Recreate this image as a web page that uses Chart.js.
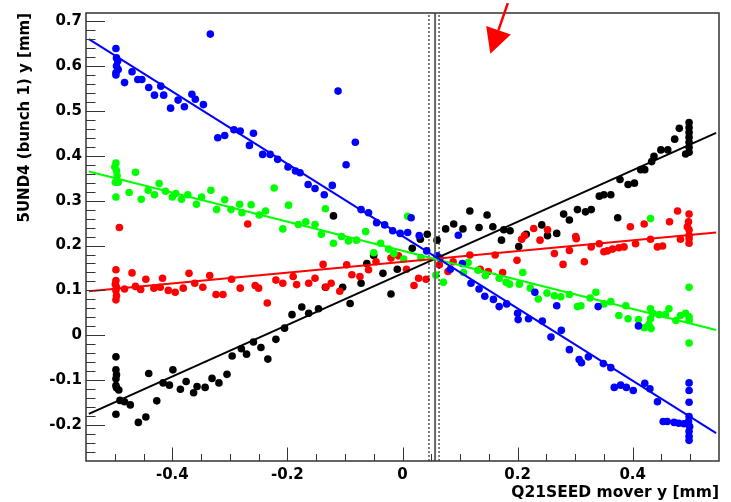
<!DOCTYPE html>
<html>
<head>
<meta charset="utf-8">
<script src="https://cdn.jsdelivr.net/npm/chart.js@4/dist/chart.umd.min.js"></script>
<style>
  html, body { margin: 0; padding: 0; background: #fff; }
  #wrap { width: 731px; height: 502px; }
</style>
</head>
<body>
<div id="wrap"><canvas id="myChart"></canvas></div>
<script>
// scan points, x = mover y [mm], y = 5UND4 y [mm]
var blueX = [-0.498,-0.497,-0.495,-0.497,-0.494,-0.498,-0.498,-0.483,-0.470,-0.460,-0.453,-0.441,-0.431,-0.420,-0.415,-0.403,-0.390,-0.379,-0.366,-0.360,-0.346,-0.334,-0.321,-0.309,-0.293,-0.282,-0.259,-0.266,-0.243,-0.230,-0.217,-0.199,-0.186,-0.178,-0.164,-0.152,-0.136,-0.122,-0.112,-0.098,-0.082,-0.072,-0.059,-0.045,-0.031,-0.017,-0.004,0.009,0.015,0.029,0.097,0.042,0.060,0.065,0.083,0.104,0.119,0.133,0.143,0.158,0.168,0.181,0.200,0.201,0.219,0.243,0.230,0.268,0.258,0.276,0.290,0.307,0.311,0.323,0.340,0.349,0.362,0.368,0.379,0.389,0.401,0.421,0.430,0.410,0.443,0.453,0.460,0.472,0.480,0.489,0.498,0.498,0.498,0.498,0.497,0.499,0.498,0.498,0.498];
var blueY = [0.639,0.618,0.611,0.600,0.592,0.585,0.580,0.563,0.587,0.570,0.570,0.552,0.535,0.555,0.535,0.506,0.524,0.509,0.537,0.526,0.514,0.671,0.440,0.445,0.458,0.455,0.450,0.423,0.403,0.403,0.392,0.375,0.366,0.362,0.336,0.327,0.313,0.334,0.544,0.380,0.430,0.280,0.273,0.251,0.246,0.233,0.227,0.229,0.262,0.222,0.223,0.188,0.177,0.172,0.147,0.160,0.116,0.103,0.087,0.080,0.064,0.070,0.049,0.035,0.037,0.032,0.096,0.066,-0.004,0.011,-0.032,-0.054,-0.061,-0.048,0.064,-0.063,-0.072,-0.116,-0.111,-0.116,-0.123,-0.107,-0.119,0.021,-0.148,-0.192,-0.192,-0.194,-0.196,-0.197,-0.106,-0.123,-0.149,-0.181,-0.192,-0.203,-0.214,-0.225,-0.234];

var greenX = [-0.498,-0.500,-0.497,-0.496,-0.499,-0.494,-0.498,-0.464,-0.475,-0.454,-0.442,-0.431,-0.423,-0.412,-0.400,-0.394,-0.384,-0.373,-0.358,-0.349,-0.333,-0.323,-0.309,-0.298,-0.283,-0.279,-0.263,-0.249,-0.238,-0.223,-0.208,-0.198,-0.181,-0.168,-0.152,-0.141,-0.134,-0.120,-0.106,-0.094,-0.080,-0.064,-0.038,0.009,-0.050,-0.024,-0.015,0.002,0.032,0.058,0.071,0.106,0.114,0.131,0.144,0.168,0.180,0.186,0.203,0.209,0.222,0.236,0.251,0.264,0.275,0.290,0.304,0.310,0.326,0.336,0.350,0.362,0.376,0.388,0.392,0.410,0.420,0.431,0.435,0.431,0.428,0.432,0.446,0.457,0.463,0.475,0.483,0.492,0.498,0.498,0.498,0.498,0.431];
var greenY = [0.384,0.375,0.367,0.356,0.341,0.341,0.308,0.363,0.318,0.303,0.323,0.313,0.338,0.321,0.308,0.316,0.303,0.313,0.292,0.308,0.323,0.280,0.302,0.280,0.292,0.273,0.291,0.268,0.277,0.328,0.237,0.290,0.247,0.253,0.247,0.225,0.282,0.205,0.220,0.210,0.212,0.231,0.205,0.265,0.184,0.192,0.182,0.170,0.173,0.134,0.118,0.140,0.162,0.145,0.133,0.127,0.118,0.114,0.114,0.140,0.105,0.081,0.094,0.088,0.086,0.091,0.064,0.066,0.083,0.096,0.070,0.075,0.044,0.066,0.037,0.035,0.017,0.059,0.049,0.037,0.024,0.015,0.046,0.046,0.059,0.033,0.044,0.049,0.107,0.041,0.033,-0.017,0.260];

var redX = [-0.498,-0.498,-0.499,-0.497,-0.498,-0.497,-0.498,-0.492,-0.483,-0.470,-0.464,-0.455,-0.446,-0.432,-0.421,-0.417,-0.407,-0.395,-0.381,-0.371,-0.361,-0.347,-0.335,-0.324,-0.312,-0.297,-0.282,-0.269,-0.256,-0.250,-0.235,-0.220,-0.208,-0.190,-0.184,-0.163,-0.152,-0.138,-0.133,-0.124,-0.109,-0.097,-0.088,-0.074,-0.059,-0.046,-0.020,-0.007,0.007,0.020,0.028,0.041,0.064,0.079,0.088,0.117,0.135,0.149,0.161,0.174,0.199,0.207,0.239,0.264,0.279,0.290,0.302,0.316,0.328,0.342,0.350,0.356,0.365,0.376,0.385,0.405,0.431,0.443,0.452,0.483,0.228,0.252,0.212,0.301,0.396,0.420,0.464,0.478,0.498,0.497,0.495,0.498,0.498,0.498,0.498];
var redY = [0.146,0.122,0.114,0.107,0.100,0.088,0.079,0.240,0.103,0.139,0.109,0.102,0.125,0.105,0.107,0.127,0.100,0.096,0.105,0.138,0.116,0.107,0.133,0.091,0.091,0.125,0.105,0.248,0.111,0.105,0.072,0.123,0.116,0.131,0.113,0.116,0.127,0.158,0.107,0.116,0.098,0.157,0.135,0.131,0.146,0.164,0.172,0.177,0.147,0.111,0.127,0.125,0.157,0.142,0.164,0.179,0.147,0.142,0.179,0.140,0.167,0.214,0.212,0.182,0.158,0.189,0.215,0.164,0.197,0.204,0.186,0.188,0.192,0.195,0.197,0.204,0.214,0.197,0.199,0.214,0.238,0.235,0.222,0.220,0.242,0.248,0.253,0.277,0.270,0.253,0.242,0.235,0.223,0.215,0.205];

var blackX = [-0.498,-0.498,-0.497,-0.498,-0.498,-0.497,-0.498,-0.493,-0.491,-0.483,-0.473,-0.459,-0.446,-0.441,-0.427,-0.416,-0.405,-0.399,-0.386,-0.376,-0.363,-0.357,-0.343,-0.331,-0.319,-0.305,-0.296,-0.280,-0.271,-0.259,-0.246,-0.234,-0.220,-0.205,-0.192,-0.175,-0.163,-0.146,-0.134,-0.104,-0.091,-0.072,-0.062,-0.050,-0.034,-0.020,-0.009,0.017,0.031,0.043,0.060,-0.120,0.075,0.089,0.105,0.117,0.133,0.147,0.157,0.172,0.176,0.187,0.202,0.215,0.242,0.252,0.268,0.280,0.290,0.304,0.318,0.328,0.342,0.350,0.362,0.374,0.378,0.392,0.403,0.414,0.421,0.433,0.437,0.449,0.461,0.473,0.481,0.492,0.498,0.498,0.498,0.498,0.498,0.498,0.498];
var blackY = [-0.048,-0.077,-0.088,-0.097,-0.112,-0.117,-0.176,-0.122,-0.145,-0.148,-0.155,-0.194,-0.182,-0.085,-0.146,-0.106,-0.111,-0.077,-0.120,-0.103,-0.128,-0.114,-0.116,-0.096,-0.106,-0.087,-0.046,-0.030,-0.042,-0.015,-0.027,-0.053,-0.009,0.016,0.046,0.063,0.049,0.059,0.107,0.107,0.071,0.116,0.160,0.178,0.138,0.092,0.147,0.194,0.214,0.225,0.212,0.266,0.237,0.248,0.237,0.277,0.240,0.268,0.242,0.212,0.235,0.233,0.198,0.225,0.246,0.222,0.227,0.270,0.257,0.280,0.275,0.280,0.310,0.313,0.313,0.262,0.347,0.336,0.339,0.369,0.369,0.387,0.399,0.413,0.413,0.437,0.461,0.404,0.474,0.463,0.452,0.441,0.430,0.419,0.408];

// straight-line fits, value at each end of fitX
var fitX = [-0.545, 0.545];
var blueFit = [0.660, -0.218];
var greenFit = [0.365, 0.012];
var redFit = [0.098, 0.229];
var blackFit = [-0.175, 0.451];

// vertical markers (dashed, solid, dashed)
var markerX = [0.046, 0.0566, 0.0635];

// red arrow, from -> to
var arrowFrom = [0.183, 0.740];
var arrowTo = [0.1526, 0.627];

var xTicks = [-0.4, -0.2, 0, 0.2, 0.4];
var yTicks = [-0.2, -0.1, 0, 0.1, 0.2, 0.3, 0.4, 0.5, 0.6, 0.7];

var xMin = -0.55, xMax = 0.55;
var yMin = -0.28, yMax = 0.718;

var FONT = 'DejaVu Sans';

function pts(xs, ys) {
    return xs.map(function(x, i) { return {x: x, y: ys[i]}; });
}

function scatterSet(label, xs, ys, color, order) {
    return {
        label: label,
        data: pts(xs, ys),
        backgroundColor: color,
        borderColor: color,
        borderWidth: 0,
        pointRadius: 3.8,
        pointStyle: 'circle',
        order: order
    };
}

function fitSet(label, ys, color) {
    return {
        label: label,
        data: pts(fitX, ys),
        showLine: true,
        borderColor: color,
        borderWidth: 2,
        pointRadius: 0,
        order: 0
    };
}

function markerSet(x, solid) {
    return {
        label: 'marker',
        data: [{x: x, y: yMin}, {x: x, y: yMax}],
        showLine: true,
        borderColor: solid ? '#666' : '#000',
        borderWidth: solid ? 2 : 1,
        borderDash: solid ? [] : [2, 2],
        pointRadius: 0,
        order: 0
    };
}

// ROOT style frame, inside tick marks and the arrow
var rootFrame = {
    id: 'rootFrame',
    afterDraw: function(chart) {
        var ctx = chart.ctx;
        var a = chart.chartArea;
        var sx = chart.scales.x, sy = chart.scales.y;
        ctx.save();
        ctx.strokeStyle = '#333';
        ctx.lineWidth = 1;
        ctx.beginPath();
        // y ticks: major 0.1, minor 0.02
        for (var i = -13; i <= 35; i++) {
            var v = i * 0.02;
            if (v <= yMin || v >= yMax) continue;
            var py = Math.round(sy.getPixelForValue(v)) + 0.5;
            var len = (i % 5 === 0) ? 19 : 9.5;
            ctx.moveTo(a.left, py);
            ctx.lineTo(a.left + len, py);
        }
        // x ticks: major 0.2, minor 0.05
        for (var j = -10; j <= 10; j++) {
            var u = j * 0.05;
            if (u <= xMin || u >= xMax) continue;
            var px = Math.round(sx.getPixelForValue(u)) + 0.5;
            var l2 = (j % 4 === 0) ? 13.5 : 7;
            ctx.moveTo(px, a.bottom);
            ctx.lineTo(px, a.bottom - l2);
        }
        ctx.stroke();

        ctx.lineWidth = 1.5;
        ctx.strokeRect(a.left, a.top, a.right - a.left, a.bottom - a.top);

        // arrow
        var x0 = sx.getPixelForValue(arrowFrom[0]), y0 = sy.getPixelForValue(arrowFrom[1]);
        var x1 = sx.getPixelForValue(arrowTo[0]), y1 = sy.getPixelForValue(arrowTo[1]);
        var dx = x1 - x0, dy = y1 - y0, d = Math.sqrt(dx * dx + dy * dy);
        var ux = dx / d, uy = dy / d;
        var bx = x1 - ux * 25, by = y1 - uy * 25;
        ctx.strokeStyle = '#ff0000';
        ctx.fillStyle = '#ff0000';
        ctx.lineWidth = 2.5;
        ctx.beginPath();
        ctx.moveTo(x0, y0);
        ctx.lineTo(bx, by);
        ctx.stroke();
        ctx.beginPath();
        ctx.moveTo(x1, y1);
        ctx.lineTo(bx - uy * 13, by + ux * 13);
        ctx.lineTo(bx + uy * 13, by - ux * 13);
        ctx.closePath();
        ctx.fill();
        ctx.restore();
    }
};

var ctx = document.getElementById('myChart');

var myChart = new Chart(ctx, {
    type: 'scatter',
    data: {
        datasets: [
            fitSet('blue fit', blueFit, '#0000ff'),
            fitSet('green fit', greenFit, '#00ff00'),
            fitSet('red fit', redFit, '#ff0000'),
            fitSet('black fit', blackFit, '#000000'),
            markerSet(markerX[0], false),
            markerSet(markerX[1], true),
            markerSet(markerX[2], false),
            scatterSet('blue', blueX, blueY, '#0000ff', 1),
            scatterSet('green', greenX, greenY, '#00ff00', 2),
            scatterSet('red', redX, redY, '#ff0000', 3),
            scatterSet('black', blackX, blackY, '#000000', 4)
        ]
    },
    options: {
        responsive: true,
        maintainAspectRatio: false,
        animation: false,
        layout: { padding: { left: 0, top: 10, right: 12, bottom: 0 } },
        plugins: {
            legend: { display: false },
            tooltip: { enabled: false }
        },
        scales: {
            x: {
                type: 'linear',
                min: xMin,
                max: xMax,
                afterBuildTicks: function(s) { s.ticks = xTicks.map(function(v) { return {value: v}; }); },
                afterFit: function(s) { s.height = 41; },
                grid: { display: false, drawTicks: false },
                border: { display: false },
                ticks: {
                    padding: 5,
                    color: '#000',
                    font: { family: FONT, size: 15, weight: 'bold' },
                    callback: function(v) { return String(v); }
                },
                title: {
                    display: true,
                    text: 'Q21SEED mover y [mm]',
                    align: 'end',
                    color: '#000',
                    padding: { top: 0, bottom: 0 },
                    font: { family: FONT, size: 15.5, weight: 'bold' }
                }
            },
            y: {
                type: 'linear',
                min: yMin,
                max: yMax,
                afterBuildTicks: function(s) { s.ticks = yTicks.map(function(v) { return {value: v}; }); },
                afterFit: function(s) { s.width = 86; },
                grid: { display: false, drawTicks: false },
                border: { display: false },
                ticks: {
                    padding: 4,
                    color: '#000',
                    font: { family: FONT, size: 15, weight: 'bold' },
                    callback: function(v) { return String(v); }
                },
                title: {
                    display: true,
                    text: '5UND4 (bunch 1) y [mm]',
                    align: 'end',
                    color: '#000',
                    padding: { top: 16, bottom: 0 },
                    font: { family: FONT, size: 15, weight: 'bold' }
                }
            }
        }
    },
    plugins: [rootFrame]
});
</script>
</body>
</html>
